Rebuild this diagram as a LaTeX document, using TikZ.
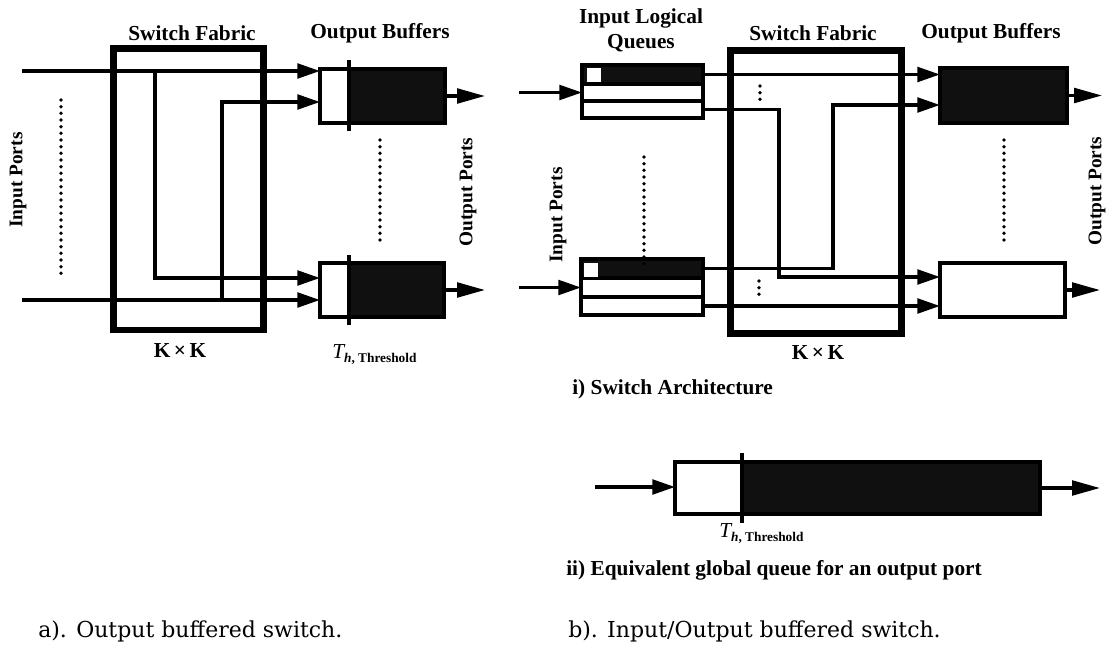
\documentclass[tikz,border=0pt]{standalone}
\usepackage{fontspec}
\setmainfont{Liberation Serif}
\newfontfamily\capfont{DejaVu Serif}
\usetikzlibrary{arrows.meta}
\definecolor{dk}{RGB}{16,16,16}
\begin{document}
\begin{tikzpicture}[x=0.75pt,y=-0.75pt,
  conn/.style={line width=2.5pt,-{Triangle[length=17pt,width=11pt]}},
  outarr/.style={line width=2.5pt,-{Triangle[length=21pt,width=11pt]}},
  fabric/.style={draw,line width=5.2pt,inner sep=0pt,outer sep=0pt},
  buf/.style={draw,line width=2.3pt,inner sep=0pt,outer sep=0pt},
  tickline/.style={line width=2.5pt},
  dotline/.style={line width=2.8pt,line cap=round,dash pattern=on 0pt off 5pt},
  lbl/.style={inner sep=0pt,font=\bfseries\fontsize{16}{18.5}\selectfont},
  plbl/.style={inner sep=0pt,rotate=90,font=\bfseries\fontsize{14.5}{17}\selectfont},
  captxt/.style={inner sep=0pt,anchor=west,font=\capfont\fontsize{16.5}{19}\selectfont},
  thr/.style={inner sep=0pt,anchor=west}]
\fill[white] (0,0) rectangle (1109,649);
\useasboundingbox (0,0) rectangle (1109,649);
% ================= a) Output buffered switch =================
\node[fabric,minimum width=150*0.75pt,minimum height=281.5*0.75pt] (fabA) at (188.5,189.25) {};
\node[buf,minimum width=29*0.75pt,minimum height=54*0.75pt] (wA1) at (334.5,96) {};
\node[buf,fill=dk,minimum width=96*0.75pt,minimum height=54*0.75pt] (dA1) at (397,96) {};
\node[buf,minimum width=29*0.75pt,minimum height=54*0.75pt] (wA2) at (334.5,290) {};
\node[buf,fill=dk,minimum width=95*0.75pt,minimum height=54*0.75pt] (dA2) at (396.5,290) {};
\draw[tickline] (349,60) -- (349,131);
\draw[tickline] (349,255) -- (349,325);
\coordinate (inA1) at (22,71);
\coordinate (inA2) at (22,300);
\coordinate (jA1) at (155,71);
\coordinate (jA2) at (222,300);
\coordinate (yA2) at (0,102);
\coordinate (yA3) at (0,278);
\draw[conn] (inA1) -- (inA1 -| wA1.west);
\draw[conn] (jA2) |- (yA2 -| wA1.west);
\draw[conn] (jA1) |- (yA3 -| wA2.west);
\draw[conn] (inA2) -- (inA2 -| wA2.west);
\draw[outarr] (dA1.east) -- ++(40,0);
\draw[outarr] (dA2.east) -- ++(41,0);
\draw[dotline] (61,100) -- (61,275);
\draw[dotline] (380,140) -- (380,243);
\node[lbl] (tA1) at (192,33) {Switch Fabric};
\node[lbl] (tA2) at (380,33) {Output Buffers};
\node[plbl] (pA1) at (18,180) {Input Ports};
\node[plbl] (pA2) at (468,192) {Output Ports};
\node[lbl] (kA) at (180,351) {K\,×\,K};
\node[thr] (thA) at (332,355) {{\fontsize{16}{18}\selectfont\itshape T}{\fontsize{10}{11}\selectfont\bfseries\raisebox{-3pt}{\textit{h}, Threshold}}};
\node[captxt] (capA) at (38,631) {a). Output buffered switch.};
% ================= b) Input/Output buffered switch =================
\node[fabric,minimum width=171*0.75pt,minimum height=283*0.75pt] (fabB) at (816,192) {};
% input logical queues
\node[buf,fill=dk,minimum width=121*0.75pt,minimum height=19*0.75pt] (q1a) at (642.5,74.5) {};
\node[buf,minimum width=121*0.75pt,minimum height=17*0.75pt] (q1b) at (642.5,92.5) {};
\node[buf,minimum width=121*0.75pt,minimum height=17*0.75pt] (q1c) at (642.5,109.5) {};
\node[fill=white,inner sep=0pt,minimum size=14*0.75pt] (sq1) at (593.5,75) {};
\node[buf,fill=dk,minimum width=122*0.75pt,minimum height=19*0.75pt] (q2a) at (642,268.5) {};
\node[buf,minimum width=122*0.75pt,minimum height=19*0.75pt] (q2b) at (642,287.5) {};
\node[buf,minimum width=122*0.75pt,minimum height=18*0.75pt] (q2c) at (642,306) {};
\node[fill=white,inner sep=0pt,minimum size=14*0.75pt] (sq2) at (591,269.5) {};
% output buffers
\node[buf,fill=dk,minimum width=127*0.75pt,minimum height=55*0.75pt] (oB1) at (1003.5,95.5) {};
\node[buf,minimum width=125*0.75pt,minimum height=54*0.75pt] (oB2) at (1002.5,290) {};
\coordinate (inB1) at (519,92.5);
\coordinate (inB2) at (519,287.5);
\coordinate (yB2) at (0,105);
\coordinate (xB2) at (833,0);
\coordinate (yB3) at (0,277);
\coordinate (xB3) at (779,0);
\draw[conn] (inB1) -- (q1b.west);
\draw[conn] (inB2) -- (q2b.west);
\draw[conn] (q1a.east) -- (q1a.east -| oB1.west);
\draw[conn] (q2a.east) -| (xB2 |- yB2) -- (yB2 -| oB1.west);
\draw[conn] (q1c.east) -| (xB3 |- yB3) -- (yB3 -| oB2.west);
\draw[conn] (q2c.east) -- (q2c.east -| oB2.west);
\draw[outarr] (oB1.east) -- ++(35,0);
\draw[outarr] (oB2.east) -- ++(35,0);
\draw[dotline] (644,157) -- (644,268);
\draw[dotline] (1004,140) -- (1004,243);
\draw[dotline] (760,86) -- (760,100);
\draw[dotline] (759,281) -- (759,296);
\node[lbl,align=center] (tB0) at (641,30.5) {Input Logical\\Queues};
\node[lbl] (tB1) at (813,33) {Switch Fabric};
\node[lbl] (tB2) at (991,33) {Output Buffers};
\node[plbl] (pB1) at (558,215) {Input Ports};
\node[plbl] (pB2) at (1097,191) {Output Ports};
\node[lbl] (kB) at (818,353) {K\,×\,K};
\node[lbl,anchor=west] (capi) at (572,389) {i) Switch Architecture};
% equivalent global queue
\node[buf,minimum width=67*0.75pt,minimum height=52*0.75pt] (eqW) at (708.5,488) {};
\node[buf,fill=dk,minimum width=298*0.75pt,minimum height=52*0.75pt] (eqD) at (891,488) {};
\draw[tickline] (742,453) -- (742,523);
\coordinate (inE) at (595,487);
\draw[conn] (inE) -- (inE -| eqW.west);
\draw[outarr] (eqD.east) -- ++(60,0);
\node[thr] (thB) at (719,534) {{\fontsize{16}{18}\selectfont\itshape T}{\fontsize{10}{11}\selectfont\bfseries\raisebox{-3pt}{\textit{h}, Threshold}}};
\node[lbl,anchor=west] (capii) at (566,570) {ii) Equivalent global queue for an output port};
\node[captxt] (capB) at (568,631) {b). Input/Output buffered switch.};
\end{tikzpicture}
\end{document}
